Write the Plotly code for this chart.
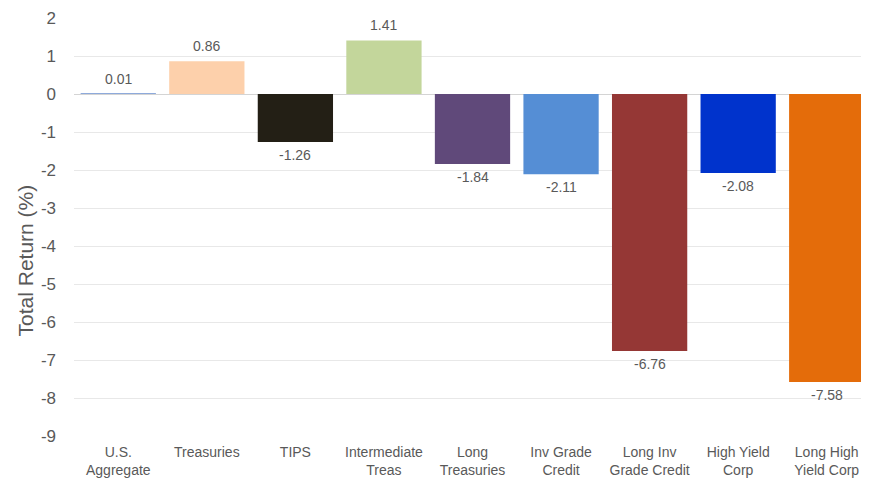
import plotly.graph_objects as go

categories = ["U.S.<br>Aggregate", "Treasuries", "TIPS", "Intermediate<br>Treas",
              "Long<br>Treasuries", "Inv Grade<br>Credit", "Long Inv<br>Grade Credit",
              "High Yield<br>Corp", "Long High<br>Yield Corp"]
values = [0.01, 0.86, -1.26, 1.41, -1.84, -2.11, -6.76, -2.08, -7.58]
labels = ["0.01", "0.86", "-1.26", "1.41", "-1.84", "-2.11", "-6.76", "-2.08", "-7.58"]
colors = ["#8eaadb", "#fdd0ab", "#231f15", "#c3d69b", "#60497a",
          "#558ed5", "#953735", "#0033cc", "#e46c0a"]
y_ticks = list(range(2, -10, -1))

FONT = "Liberation Sans, Arial"
GREY = "#595959"

fig = go.Figure(go.Bar(
    x=categories, y=values, marker_color=colors, marker_line_width=0,
))

for c, v, t in zip(categories, values, labels):
    fig.add_annotation(
        x=c, y=v, text=t, showarrow=False,
        yanchor="bottom" if v >= 0 else "top",
        yshift=5 if v >= 0 else -3,
        font=dict(family=FONT, size=14, color=GREY),
    )

fig.add_annotation(
    text="Total Return (%)", xref="paper", yref="paper", x=0, y=0.42,
    xanchor="center", yanchor="middle",
    xshift=-49, textangle=-90, showarrow=False,
    font=dict(family=FONT, size=21, color=GREY),
)

fig.update_layout(
    width=863, height=471,
    margin=dict(l=66, r=0, t=10, b=43),
    paper_bgcolor="white", plot_bgcolor="white",
    bargap=0.15, showlegend=False,
    font=dict(family=FONT, color=GREY),
)
fig.update_yaxes(
    range=[-9, 2], tickvals=y_ticks, ticktext=[str(v) for v in y_ticks],
    tickfont=dict(size=17, color=GREY),
    showgrid=True, gridcolor="#e8e8e8", gridwidth=1,
    zeroline=True, zerolinecolor="#d4d4d4", zerolinewidth=1,
    ticks="", ticklabelstandoff=17, automargin=False,
)
fig.update_xaxes(
    tickfont=dict(size=14, color=GREY), showline=False, ticks="",
    ticklabelstandoff=6, automargin=False,
)

fig.write_html("out.html")
